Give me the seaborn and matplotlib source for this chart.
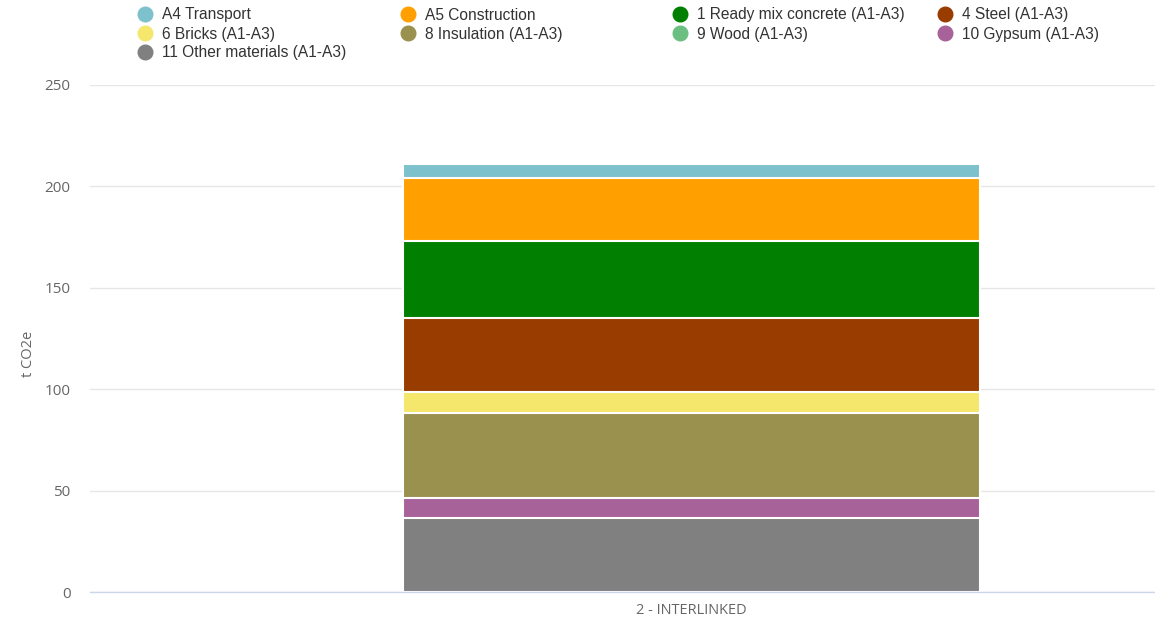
import numpy as np
import pandas as pd
import matplotlib
matplotlib.use("Agg")
import matplotlib.pyplot as plt
from matplotlib.lines import Line2D
import seaborn as sns

# ---- data ----
category = "2 - INTERLINKED"
series_names = ["A4 Transport", "A5 Construction", "1 Ready mix concrete (A1-A3)",
                "4 Steel (A1-A3)", "6 Bricks (A1-A3)", "8 Insulation (A1-A3)",
                "9 Wood (A1-A3)", "10 Gypsum (A1-A3)", "11 Other materials (A1-A3)"]
series_values = [7.0, 31.0, 38.0, 36.5, 10.3, 41.9, 0.0, 9.9, 36.5]
series_colors = ["#7cc1cb", "#ffa000", "#007f00", "#983c00", "#f5e66c",
                 "#9a914f", "#6bbf80", "#a8629a", "#808080"]
y_ticks = [0, 50, 100, 150, 200, 250]

sns.set_theme(style="white")
plt.rcParams['font.family'] = ['Liberation Sans', 'DejaVu Sans']

fig = plt.figure(figsize=(11.55, 6.26), dpi=100)
ax = fig.add_axes([90/1155, 1-592/626, 1-90/1155, (592-85)/626])

# stack from bottom (last series) to top (first series)
df = pd.DataFrame({"name": series_names, "value": series_values, "color": series_colors})
stack_order = df.iloc[::-1].reset_index(drop=True)
stack_order["cum"] = stack_order["value"].cumsum()
# draw tallest first so shorter ones overlay
for _, row in stack_order.iloc[::-1].iterrows():
    if row["value"] <= 0:
        continue
    sns.barplot(x=[category], y=[row["cum"]], color=row["color"], saturation=1,
                width=0.48, edgecolor="white", linewidth=1.5, ax=ax)

ax.set_xlim(-0.5004, 0.3856)
ax.set_ylim(0, 250)
ax.set_yticks(y_ticks)
ax.set_yticklabels([str(t) for t in y_ticks], fontsize=11, color="#666666",
                   family=["Open Sans", "DejaVu Sans"])
ax.tick_params(axis="y", length=0, pad=14)
ax.tick_params(axis="x", length=0, pad=8)
for lbl in ax.get_xticklabels():
    lbl.set_fontsize(10.5)
    lbl.set_color("#666666")
    lbl.set_family(["Open Sans", "DejaVu Sans"])
ax.yaxis.grid(True, color="#e6e6e6", linewidth=1)
ax.set_axisbelow(True)
for s in ["top", "right", "left"]:
    ax.spines[s].set_visible(False)
ax.spines["bottom"].set_color("#ccd6eb")
ax.spines["bottom"].set_linewidth(1)
ax.set_xlabel("")
ax.set_ylabel("")
fig.text(28/1155, 1-354/626, "t CO2e", rotation=90, ha="center", va="center",
         fontsize=10.5, color="#666666", family=["Open Sans", "DejaVu Sans"])

# ---- legend (row-wise, 4 columns) ----
col_x = [145, 408, 680, 945]
row_y = [14, 33, 52]
for i, (name, col) in enumerate(zip(series_names, series_colors)):
    r, c = divmod(i, 4)
    fx = col_x[c] / 1155
    fy = 1 - row_y[r] / 626
    fig.lines.append(Line2D([fx], [fy], transform=fig.transFigure, marker="o",
                            markersize=10.5, color=col, linestyle="none"))
    fig.text((col_x[c] + 17) / 1155, 1 - (row_y[r] + 5.5) / 626, name,
             ha="left", va="baseline", fontsize=11.2, color="#333333")

fig.savefig("out.png", dpi=100)
